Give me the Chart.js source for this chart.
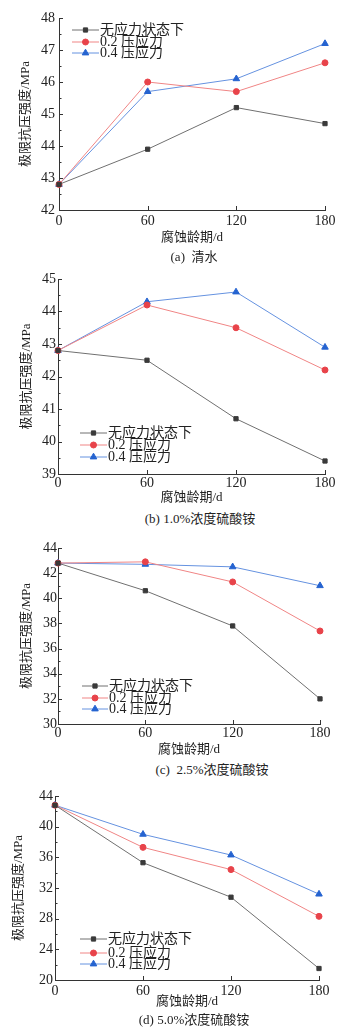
<!DOCTYPE html>
<html><head><meta charset="utf-8">
<script src="https://cdn.jsdelivr.net/npm/chart.js@4/dist/chart.umd.min.js"></script>
<style>
html,body{margin:0;padding:0;background:#fff;width:346px;height:1036px;overflow:hidden;position:relative}
canvas{position:absolute;left:0}
.cap{position:absolute;font-family:'Liberation Serif','Noto Sans CJK SC',serif;font-size:13px;color:#222;white-space:nowrap;transform:translate(-50%,-50%)}
</style></head><body>
<canvas id="ca" width="346" height="246" style="top:0px"></canvas>
<canvas id="cb" width="346" height="244" style="top:262px"></canvas>
<canvas id="cc" width="346" height="228" style="top:530px"></canvas>
<canvas id="cd" width="346" height="232" style="top:778px"></canvas>
<div class="cap" style="left:194px;top:255px">(a)&nbsp;&nbsp;清水</div>
<div class="cap" style="left:200px;top:517px">(b)&nbsp;1.0%浓度硫酸铵</div>
<div class="cap" style="left:212px;top:768px">(c)&nbsp;&nbsp;2.5%浓度硫酸铵</div>
<div class="cap" style="left:194px;top:1018px">(d)&nbsp;5.0%浓度硫酸铵</div>
<script>
// ---- data ----
const days = [0, 60, 120, 180];
const xTicks = [0, 60, 120, 180];
const seriesNames = ['无应力状态下', '0.2 压应力', '0.4 压应力'];

const aNone = [42.8, 43.9, 45.2, 44.7];
const aR02  = [42.8, 46.0, 45.7, 46.6];
const aR04  = [42.8, 45.7, 46.1, 47.2];
const aYTicks = [42, 43, 44, 45, 46, 47, 48];

const bNone = [42.8, 42.5, 40.7, 39.4];
const bR02  = [42.8, 44.2, 43.5, 42.2];
const bR04  = [42.8, 44.3, 44.6, 42.9];
const bYTicks = [39, 40, 41, 42, 43, 44, 45];

const cNone = [42.8, 40.6, 37.8, 32.0];
const cR02  = [42.8, 42.9, 41.3, 37.4];
const cR04  = [42.8, 42.7, 42.5, 41.0];
const cYTicks = [30, 32, 34, 36, 38, 40, 42, 44];

const dNone = [42.8, 35.3, 30.8, 21.5];
const dR02  = [42.8, 37.3, 34.4, 28.3];
const dR04  = [42.8, 39.0, 36.3, 31.2];
const dYTicks = [20, 24, 28, 32, 36, 40, 44];

const xTitle = '腐蚀龄期/d';
const yTitle = '极限抗压强度/MPa';

// ---- styles ----
const FONT = "'Liberation Serif','Noto Sans CJK SC',serif";
const styles = [
  {line: '#707070', mark: '#3a3a3a', pointStyle: 'rect', radius: 3},
  {line: '#f08585', mark: '#e8434a', pointStyle: 'circle', radius: 3},
  {line: '#6592e0', mark: '#2563d0', pointStyle: 'triangle', radius: 3.8}
];

const inwardTicks = {
  id: 'inwardTicks',
  afterDraw(chart) {
    const ctx = chart.ctx, y = chart.scales.y, x = chart.scales.x, a = chart.chartArea;
    ctx.save();
    ctx.strokeStyle = '#333'; ctx.lineWidth = 1;
    ctx.beginPath();
    const yt = y.ticks.map(t => t.value);
    yt.forEach((v, i) => {
      const py = Math.round(y.getPixelForValue(v)) + 0.5;
      ctx.moveTo(a.left, py); ctx.lineTo(a.left + 4, py);
      if (i < yt.length - 1) {
        const pm = Math.round(y.getPixelForValue((v + yt[i + 1]) / 2)) + 0.5;
        ctx.moveTo(a.left, pm); ctx.lineTo(a.left + 2.5, pm);
      }
    });
    x.ticks.forEach(t => {
      if (t.value === 0) return;
      const px = Math.round(x.getPixelForValue(t.value)) + 0.5;
      ctx.moveTo(px, a.bottom); ctx.lineTo(px, a.bottom - 4);
    });
    ctx.stroke();
    ctx.restore();
  }
};

const innerLegend = {
  id: 'innerLegend',
  afterDatasetsDraw(chart, args, opts) {
    const ctx = chart.ctx;
    ctx.save();
    chart.data.datasets.forEach((ds, i) => {
      const yy = opts.rows[i];
      ctx.strokeStyle = ds.borderColor; ctx.lineWidth = 1;
      ctx.beginPath(); ctx.moveTo(opts.x1, yy); ctx.lineTo(opts.x2, yy); ctx.stroke();
      ctx.fillStyle = ds.pointBackgroundColor; ctx.strokeStyle = ds.pointBorderColor;
      Chart.helpers.drawPoint(ctx, {pointStyle: ds.pointStyle, radius: ds.pointRadius, rotation: 0, borderWidth: 1}, (opts.x1 + opts.x2) / 2, yy);
      ctx.fillStyle = '#222';
      ctx.font = '14px ' + FONT;
      ctx.textBaseline = 'middle'; ctx.textAlign = 'left';
      ctx.fillText(ds.label, opts.x2 + 1, yy + 0.5);
    });
    ctx.restore();
  }
};

function makeChart(id, series, yTicks, cfg) {
  const datasets = series.map((vals, i) => ({
    label: seriesNames[i],
    data: days.map((d, j) => ({x: d, y: vals[j]})),
    borderColor: styles[i].line,
    backgroundColor: styles[i].mark,
    pointBackgroundColor: styles[i].mark,
    pointBorderColor: styles[i].mark,
    pointStyle: styles[i].pointStyle,
    pointRadius: styles[i].radius,
    pointBorderWidth: 1,
    borderWidth: 1,
    clip: false,
    tension: 0
  }));
  return new Chart(document.getElementById(id), {
    type: 'line',
    data: {datasets},
    plugins: [inwardTicks, innerLegend],
    options: {
      responsive: false, animation: false, devicePixelRatio: 1,
      layout: {padding: {top: cfg.padTop, right: cfg.padRight, left: 0, bottom: 0}},
      plugins: {legend: {display: false}, tooltip: {enabled: false},
        innerLegend: cfg.legend},
      scales: {
        x: {
          type: 'linear', min: 0, max: 180,
          afterBuildTicks: s => { s.ticks = xTicks.map(v => ({value: v})); },
          afterFit: s => { s.height = cfg.xHeight; },
          grid: {display: true, drawOnChartArea: false, drawTicks: false},
          border: {display: true, color: '#333', width: 1},
          ticks: {color: '#222', font: {family: FONT, size: 14}, padding: cfg.xPad, maxRotation: 0},
          title: {display: true, text: xTitle, color: '#222', font: {family: FONT, size: 13, lineHeight: 1.2}, padding: {top: 0, bottom: 0.2}}
        },
        y: {
          type: 'linear', min: yTicks[0], max: yTicks[yTicks.length - 1],
          afterBuildTicks: s => { s.ticks = yTicks.map(v => ({value: v})); },
          afterFit: s => { s.width = cfg.yWidth; },
          grid: {display: true, drawOnChartArea: false, drawTicks: false},
          border: {display: true, color: '#333', width: 1},
          ticks: {color: '#222', font: {family: FONT, size: 14}, padding: cfg.yPad},
          title: {display: true, text: yTitle, color: '#222', font: {family: FONT, size: 13, lineHeight: 1.2}, padding: {top: cfg.yTitleX - 7.8, bottom: 0}}
        }
      }
    }
  });
}

makeChart('ca', [aNone, aR02, aR04], aYTicks,
  {padTop: 18, padRight: 21, yWidth: 59, xHeight: 36, xPad: 3, yPad: 4, yTitleX: 26,
   legend: {x1: 72, x2: 99, rows: [30, 42, 53]}});
makeChart('cb', [bNone, bR02, bR04], bYTicks,
  {padTop: 17, padRight: 21, yWidth: 58, xHeight: 32, xPad: 1, yPad: 2, yTitleX: 27,
   legend: {x1: 80, x2: 107, rows: [433 - 262, 445 - 262, 457 - 262]}});
makeChart('cc', [cNone, cR02, cR04], cYTicks,
  {padTop: 18, padRight: 26, yWidth: 58, xHeight: 34, xPad: 1, yPad: 1, yTitleX: 27,
   legend: {x1: 82, x2: 108, rows: [686 - 530, 698 - 530, 709 - 530]}});
makeChart('cd', [dNone, dR02, dR04], dYTicks,
  {padTop: 18, padRight: 27, yWidth: 55, xHeight: 30, xPad: 3, yPad: 2, yTitleX: 19,
   legend: {x1: 80, x2: 107, rows: [939 - 778, 953 - 778, 964 - 778]}});
</script>
</body></html>
